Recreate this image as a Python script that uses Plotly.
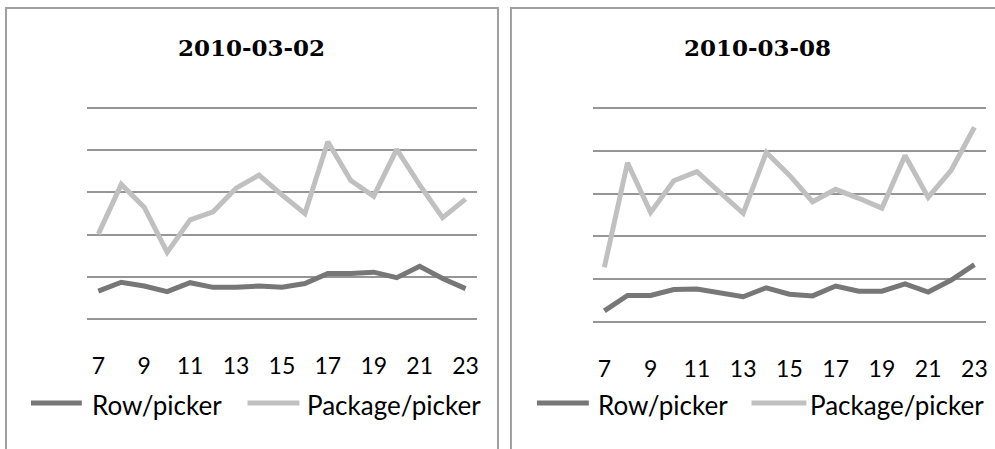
import plotly.graph_objects as go

# Hourly productivity per picker on two days
hours = [str(h) for h in range(7, 24)]
tick_hours = [str(h) for h in range(7, 24, 2)]

row_0302 = [6.6, 8.7, 7.8, 6.5, 8.6, 7.5, 7.5, 7.8, 7.5, 8.4, 10.8, 10.8, 11.1, 9.8, 12.5, 9.6, 7.2]
pkg_0302 = [20.1, 31.9, 26.5, 15.8, 23.5, 25.4, 31.0, 34.1, 29.4, 25.0, 42.0, 32.8, 29.1, 40.2, 31.8, 24.0, 28.4]

row_0308 = [2.6, 6.2, 6.2, 7.6, 7.7, 6.9, 5.9, 8.0, 6.5, 6.1, 8.4, 7.2, 7.2, 8.9, 7.0, 9.8, 13.4]
pkg_0308 = [12.8, 37.2, 25.6, 33.0, 35.1, 30.1, 25.4, 39.6, 34.3, 28.1, 31.0, 28.9, 26.6, 38.9, 29.1, 35.5, 45.5]

titles = ["2010-03-02", "2010-03-08"]
series_names = ["Row/picker", "Package/picker"]

W, H = 995, 449
ROW_COLOR = "#777777"
PKG_COLOR = "#c0c0c0"
GRID_COLOR = "#969696"
BORDER_COLOR = "#a0a0a0"
TEXT_FONT = "Lato"


def px(x):
    return x / W


def py(y):
    return 1 - y / H


fig = go.Figure()

panels = [
    dict(xa="x", ya="y", row=row_0302, pkg=pkg_0302),
    dict(xa="x2", ya="y2", row=row_0308, pkg=pkg_0308),
]

for p in panels:
    fig.add_trace(go.Scatter(x=hours, y=p["row"], mode="lines", name=series_names[0],
                             line=dict(color=ROW_COLOR, width=5), xaxis=p["xa"], yaxis=p["ya"],
                             showlegend=False))
    fig.add_trace(go.Scatter(x=hours, y=p["pkg"], mode="lines", name=series_names[1],
                             line=dict(color=PKG_COLOR, width=5), xaxis=p["xa"], yaxis=p["ya"],
                             showlegend=False))

axis_common_x = dict(type="category", categoryorder="array", categoryarray=hours,
                     range=[-0.5, 16.5], tickmode="array", tickvals=tick_hours,
                     ticktext=tick_hours, showgrid=False, zeroline=False, showline=False,
                     ticks="", ticklabelstandoff=27,
                     tickfont=dict(family=TEXT_FONT, size=23, color="#000000"))
axis_common_y = dict(range=[-1, 51], tickmode="linear", tick0=0, dtick=10,
                     showgrid=True, gridcolor=GRID_COLOR, gridwidth=2,
                     zeroline=False, showline=False, showticklabels=False, ticks="")

layout = dict(width=W, height=H, margin=dict(l=0, r=0, t=0, b=0),
              paper_bgcolor="white", plot_bgcolor="white", showlegend=False)
layout["xaxis"] = dict(axis_common_x, domain=[px(87), px(478)], anchor="y")
layout["yaxis"] = dict(axis_common_y, domain=[py(323.2), py(103.8)], anchor="x")
layout["xaxis2"] = dict(axis_common_x, domain=[px(594), px(988)], anchor="y2")
layout["yaxis2"] = dict(axis_common_y, domain=[py(326.3), py(103.7)], anchor="x2")
fig.update_layout(**layout)

# Chart-area frames
shapes = []
for x0, x1 in [(6, 499), (512, 1007)]:
    shapes.append(dict(type="rect", xref="paper", yref="paper",
                       x0=px(x0), x1=px(x1), y0=py(470), y1=py(8),
                       line=dict(color=BORDER_COLOR, width=2), fillcolor="rgba(0,0,0,0)",
                       layer="below"))

annotations = []
for title, cx in zip(titles, [252, 759.5]):
    annotations.append(dict(text="<b>" + title + "</b>", xref="paper", yref="paper",
                            x=px(cx), y=py(47), xanchor="center", yanchor="middle",
                            showarrow=False,
                            font=dict(family="DejaVu Serif", size=23, color="#000000")))

# Legends: swatch line followed by series label
legend_items = [
    (31, 82, 90, 0), (248, 300, 306, 1),
    (538, 590, 597, 0), (753, 808, 810, 1),
]
for lx0, lx1, tx, si in legend_items:
    color = ROW_COLOR if si == 0 else PKG_COLOR
    shapes.append(dict(type="line", xref="paper", yref="paper",
                       x0=px(lx0), x1=px(lx1), y0=py(403), y1=py(403),
                       line=dict(color=color, width=5)))
    annotations.append(dict(text=series_names[si], xref="paper", yref="paper",
                            x=px(tx), y=py(405), xanchor="left", yanchor="middle",
                            showarrow=False,
                            font=dict(family=TEXT_FONT, size=26, color="#000000")))

fig.update_layout(shapes=shapes, annotations=annotations)

fig.write_html("out.html")
